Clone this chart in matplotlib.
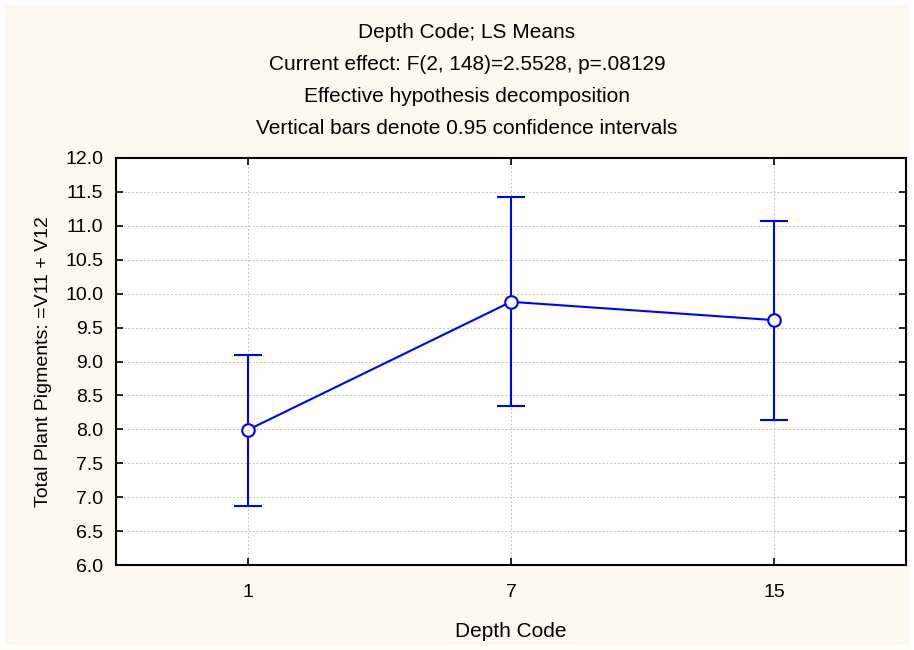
import matplotlib.pyplot as plt
from matplotlib.patches import Rectangle

# ---------- Data ----------
depth_codes = ["1", "7", "15"]
ls_means = [7.99, 9.88, 9.61]
ci_lower = [6.87, 8.34, 8.14]
ci_upper = [9.10, 11.42, 11.07]

plt.rcParams['font.family'] = ['Liberation Sans', 'DejaVu Sans']

fig = plt.figure(figsize=(9.14, 6.5), dpi=100)
fig.patch.set_facecolor('white')
fig.patches.append(Rectangle((5 / 914, 5 / 650), 904 / 914, 640 / 650,
                             transform=fig.transFigure, facecolor='#fdf9ee',
                             edgecolor='none', zorder=-1))

ax = fig.add_axes([116 / 914, 85 / 650, 790 / 914, 407 / 650])
ax.set_facecolor('white')

x = list(range(len(depth_codes)))
yerr = [[m - lo for m, lo in zip(ls_means, ci_lower)],
        [hi - m for m, hi in zip(ls_means, ci_upper)]]
ax.errorbar(x, ls_means, yerr=yerr, color='#0000ff', lw=1.5, elinewidth=1.5,
            capsize=10, capthick=1.5, marker='o', markersize=9,
            markerfacecolor='white', markeredgecolor='#0000ff',
            markeredgewidth=1.5, zorder=3)

ax.set_xlim(-0.5, 2.5)
ax.set_ylim(6.0, 12.0)
ax.set_xticks(x)
ax.set_xticklabels(depth_codes)
ax.set_yticks([6 + 0.5 * i for i in range(13)])
ax.set_yticklabels([f"{6 + 0.5 * i:.1f}" for i in range(13)])
ax.grid(True, color='#c4c4c4', linestyle=(0, (2, 2)), linewidth=0.7)
ax.set_axisbelow(True)
ax.tick_params(direction='in', length=5, width=1.2, top=True, right=True,
               labelsize=14, pad=9)
ax.tick_params(axis='x', pad=14)
for s in ax.spines.values():
    s.set_linewidth(1.5)
    s.set_color('black')

ax.set_xlabel("Depth Code", fontsize=15, labelpad=15)
ax.set_ylabel("Total Plant Pigments: =V11 + V12", fontsize=14, labelpad=10)

titles = ["Depth Code; LS Means",
          "Current effect: F(2, 148)=2.5528, p=.08129",
          "Effective hypothesis decomposition",
          "Vertical bars denote 0.95 confidence intervals"]
for i, t in enumerate(titles):
    fig.text(467 / 914, 1 - (32 + 32 * i) / 650, t, ha='center', va='center',
             fontsize=15)

fig.savefig("out.png", dpi=100, facecolor=fig.get_facecolor())
